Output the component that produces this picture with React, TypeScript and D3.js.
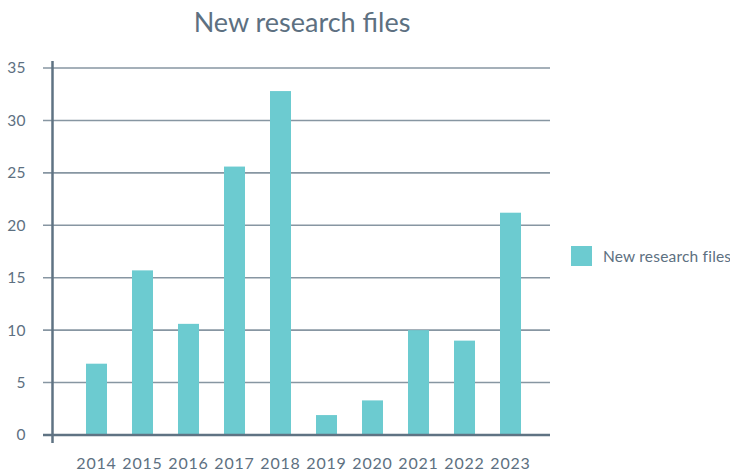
import React from "react";
import * as d3 from "d3";

const years = ["2014", "2015", "2016", "2017", "2018", "2019", "2020", "2021", "2022", "2023"];
const values = [6.8, 15.7, 10.6, 25.6, 32.8, 1.9, 3.3, 10, 9, 21.2];
const yTicks = [0, 5, 10, 15, 20, 25, 30, 35];
const title = "New research files";
const seriesName = "New research files";

const W = 730;
const H = 473;
const FONT = "Lato, 'Open Sans', sans-serif";
const TEXT = "#5d7081";
const BAR = "#6ccbd0";

export default function App() {
  const x = d3.scaleBand<string>().domain(years).range([52, 555]).paddingInner(0.5435).paddingOuter(0.739);
  const y = d3.scaleLinear().domain([0, 35]).range([435, 68]);

  return (
    <svg width={W} height={H} style={{ position: "absolute", left: 0, top: 0 }}>
      <rect width={W} height={H} fill="#fff" />
      <text x={302} y={32} textAnchor="middle" fontFamily={FONT} fontSize={27} fill={TEXT}>
        {title}
      </text>
      {yTicks.map((t) => (
        <g key={t}>
          {t !== 0 && (
            <line x1={43} x2={550} y1={y(t)} y2={y(t)} stroke="#8796a2" strokeWidth={1.6} />
          )}
          <text x={26} y={y(t)} dy="0.35em" textAnchor="end" fontFamily={FONT} fontSize={15.5} letterSpacing={0.4} fill={TEXT}>
            {t}
          </text>
        </g>
      ))}
      {years.map((yr, i) => (
        <rect key={yr} x={x(yr)} y={y(values[i])} width={x.bandwidth()} height={y(0) - y(values[i])} fill={BAR} />
      ))}
      <line x1={43} x2={550} y1={y(0)} y2={y(0)} stroke="#5f7383" strokeWidth={2.5} />
      <line x1={52.5} x2={52.5} y1={61} y2={443} stroke="#5f7383" strokeWidth={2.5} />
      {years.map((yr) => (
        <text key={yr} x={(x(yr) as number) + x.bandwidth() / 2} y={469} textAnchor="middle" fontFamily={FONT} fontSize={16} letterSpacing={0.8} fill={TEXT}>
          {yr}
        </text>
      ))}
      <rect x={571} y={246} width={21} height={20} fill={BAR} />
      <text x={603} y={261.5} fontFamily={FONT} fontSize={15.5} letterSpacing={0.2} fill={TEXT}>
        {seriesName}
      </text>
    </svg>
  );
}
